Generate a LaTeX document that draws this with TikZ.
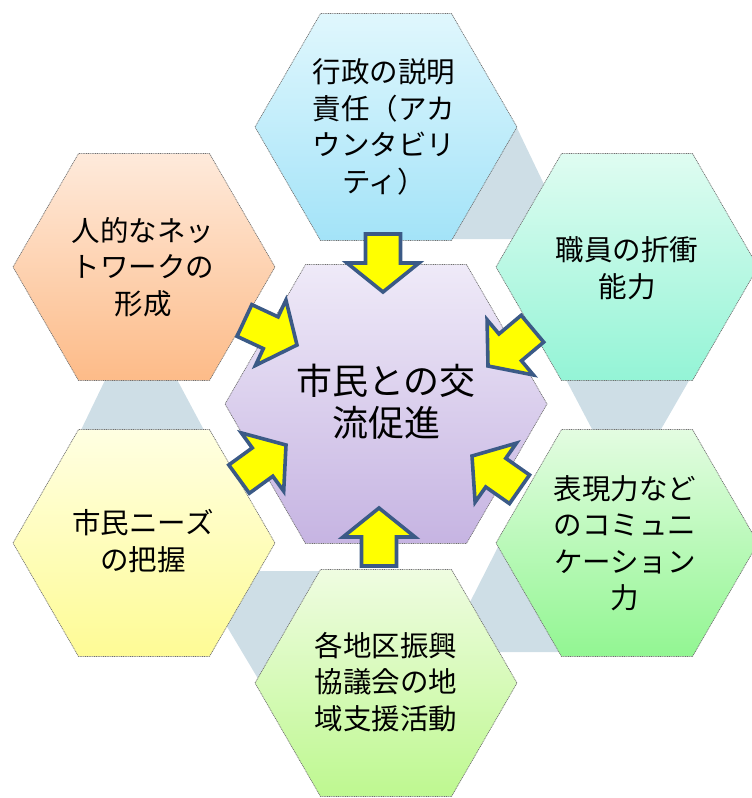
\documentclass[tikz,border=0pt]{standalone}
\usepackage{fontspec}
\newfontfamily\cjk{Noto Sans CJK JP}
\usetikzlibrary{shapes.geometric}
\definecolor{cenTop}{HTML}{EFEAF8}
\definecolor{cenBot}{HTML}{C6B4E2}
\definecolor{topTop}{HTML}{E0F7FD}
\definecolor{topBot}{HTML}{A3E3F8}
\definecolor{rtTop}{HTML}{DFFCF1}
\definecolor{rtBot}{HTML}{94F4D6}
\definecolor{rbTop}{HTML}{E3FCE1}
\definecolor{rbBot}{HTML}{92F692}
\definecolor{botTop}{HTML}{EFFCE1}
\definecolor{botBot}{HTML}{BEF890}
\definecolor{lbTop}{HTML}{FFFFE2}
\definecolor{lbBot}{HTML}{FEFB95}
\definecolor{ltTop}{HTML}{FEEADB}
\definecolor{ltBot}{HTML}{FDBB88}
\definecolor{linkGrey}{HTML}{CEDEE6}
\definecolor{hexLine}{HTML}{707070}
\definecolor{arrowLine}{HTML}{3B5A86}
\definecolor{arrowFill}{HTML}{FFFF00}
\tikzset{
  hexbase/.style={regular polygon, regular polygon sides=6, inner sep=0pt, outer sep=0pt,
    draw=hexLine, line width=0.7pt, dash pattern=on 1pt off 0.8pt},
  outerhex/.style={hexbase, minimum size=262pt},
  centerhex/.style={hexbase, minimum size=322pt},
  link/.style={fill=linkGrey, draw=none},
  arrowsty/.style={fill=arrowFill, draw=arrowLine, line width=3.6pt, line join=miter},
  label/.style={align=center, font=\cjk\fontsize{28.5}{36.5}\selectfont, text=black, inner sep=0pt},
  biglabel/.style={align=center, font=\cjk\fontsize{36}{42}\selectfont, text=black, inner sep=0pt},
  blockarrow/.pic={\path[arrowsty] (0,0) -- (-29,36) -- (-29,17.5) -- (-58,17.5) -- (-58,-17.5) -- (-29,-17.5) -- (-29,-36) -- cycle;}
}
\begin{document}
\begin{tikzpicture}[x=1pt,y=-1pt]
\useasboundingbox (0,0) rectangle (752,798);
% grey link pieces
\path[link] (505,128) -- (517,128) -- (553,203) -- (553,239) -- (445,239) -- cycle;
\path[link] (562,372) -- (694,372) -- (660,431) -- (593,431) -- cycle;
\path[link] (500,543) -- (466,610) -- (490,652) -- (570,652) -- cycle;
\path[link] (250,571) -- (330,571) -- (263,687) -- (220,615) -- cycle;
\path[link] (109,372) -- (173,372) -- (205,432) -- (80,432) -- cycle;
% outer hexagons
\node[outerhex, top color=topTop, bottom color=topBot] (hTop) at (386,127) {};
\node[outerhex, top color=rtTop, bottom color=rtBot] (hRT) at (627,267) {};
\node[outerhex, top color=rbTop, bottom color=rbBot] (hRB) at (627,543) {};
\node[outerhex, top color=botTop, bottom color=botBot] (hBot) at (386,683) {};
\node[outerhex, top color=lbTop, bottom color=lbBot] (hLB) at (144,543) {};
\node[outerhex, top color=ltTop, bottom color=ltBot] (hLT) at (144,267) {};
% center hexagon
\node[centerhex, top color=cenTop, bottom color=cenBot] (hCen) at (386,404) {};
% arrows
\pic[rotate=-90] at (383,292) {blockarrow};
\pic[rotate=90] at (379,508) {blockarrow};
\pic[rotate=220] at (488,366) {blockarrow};
\pic[rotate=145] at (472,456) {blockarrow};
\pic[rotate=36] at (286,445) {blockarrow};
\pic[rotate=-25] at (297,345) {blockarrow};
% labels
\node[biglabel] (tCen) at (386,402) {市民との交\\流促進};
\node[label] (tTop) at (384,127) {行政の説明\\責任（アカ\\ウンタビリ\\ティ）};
\node[label] (tRT) at (627,268) {職員の折衝\\能力};
\node[label] (tRB) at (625,543) {表現力など\\のコミュニ\\ケーション\\力};
\node[label] (tBot) at (386,682) {各地区振興\\協議会の地\\域支援活動};
\node[label] (tLB) at (143,541) {市民ニーズ\\の把握};
\node[label] (tLT) at (143,267) {人的なネッ\\トワークの\\形成};
\end{tikzpicture}
\end{document}
